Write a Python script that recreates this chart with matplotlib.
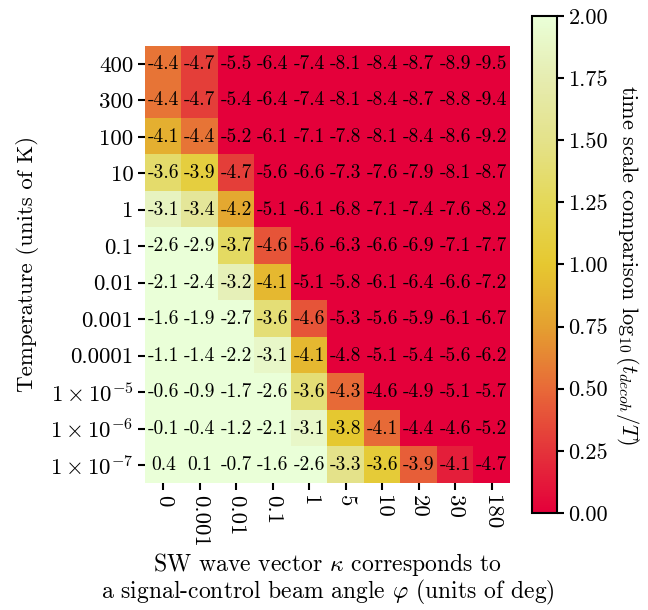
import numpy as np
import matplotlib
matplotlib.use("Agg")
import matplotlib.pyplot as plt
from matplotlib.colors import LinearSegmentedColormap

plt.rcParams['font.family'] = 'serif'
plt.rcParams['font.serif'] = ['cmr10']
plt.rcParams['mathtext.fontset'] = 'cm'
plt.rcParams['axes.unicode_minus'] = False
plt.rcParams['axes.formatter.use_mathtext'] = True

temps = ['400', '300', '100', '10', '1', '0.1', '0.01', '0.001', '0.0001',
         r'$1\times10^{-5}$', r'$1\times10^{-6}$', r'$1\times10^{-7}$']
angles = ['0', '0.001', '0.01', '0.1', '1', '5', '10', '20', '30', '180']

# annotated log10(t_decoh/T)
annot = np.array([
    [-4.4, -4.7, -5.5, -6.4, -7.4, -8.1, -8.4, -8.7, -8.9, -9.5],
    [-4.4, -4.7, -5.4, -6.4, -7.4, -8.1, -8.4, -8.7, -8.8, -9.4],
    [-4.1, -4.4, -5.2, -6.1, -7.1, -7.8, -8.1, -8.4, -8.6, -9.2],
    [-3.6, -3.9, -4.7, -5.6, -6.6, -7.3, -7.6, -7.9, -8.1, -8.7],
    [-3.1, -3.4, -4.2, -5.1, -6.1, -6.8, -7.1, -7.4, -7.6, -8.2],
    [-2.6, -2.9, -3.7, -4.6, -5.6, -6.3, -6.6, -6.9, -7.1, -7.7],
    [-2.1, -2.4, -3.2, -4.1, -5.1, -5.8, -6.1, -6.4, -6.6, -7.2],
    [-1.6, -1.9, -2.7, -3.6, -4.6, -5.3, -5.6, -5.9, -6.1, -6.7],
    [-1.1, -1.4, -2.2, -3.1, -4.1, -4.8, -5.1, -5.4, -5.6, -6.2],
    [-0.6, -0.9, -1.7, -2.6, -3.6, -4.3, -4.6, -4.9, -5.1, -5.7],
    [-0.1, -0.4, -1.2, -2.1, -3.1, -3.8, -4.1, -4.4, -4.6, -5.2],
    [0.4, 0.1, -0.7, -1.6, -2.6, -3.3, -3.6, -3.9, -4.1, -4.7],
])

# colour value of each cell (read from the shading)
shade = np.array([
    [0.55, 0.30, 0.0, 0.0, 0.0, 0.0, 0.0, 0.0, 0.0, 0.0],
    [0.55, 0.30, 0.0, 0.0, 0.0, 0.0, 0.0, 0.0, 0.0, 0.0],
    [0.85, 0.55, 0.0, 0.0, 0.0, 0.0, 0.0, 0.0, 0.0, 0.0],
    [1.35, 1.10, 0.30, 0.0, 0.0, 0.0, 0.0, 0.0, 0.0, 0.0],
    [1.85, 1.60, 0.80, 0.0, 0.0, 0.0, 0.0, 0.0, 0.0, 0.0],
    [2.0, 2.0, 1.30, 0.40, 0.0, 0.0, 0.0, 0.0, 0.0, 0.0],
    [2.0, 2.0, 1.80, 0.90, 0.0, 0.0, 0.0, 0.0, 0.0, 0.0],
    [2.0, 2.0, 2.0, 1.40, 0.40, 0.0, 0.0, 0.0, 0.0, 0.0],
    [2.0, 2.0, 2.0, 1.90, 0.90, 0.0, 0.0, 0.0, 0.0, 0.0],
    [2.0, 2.0, 2.0, 2.0, 1.40, 0.50, 0.0, 0.0, 0.0, 0.0],
    [2.0, 2.0, 2.0, 2.0, 1.90, 1.00, 0.50, 0.0, 0.0, 0.0],
    [2.0, 2.0, 2.0, 2.0, 2.0, 1.50, 1.05, 0.45, 0.15, 0.0],
])

cmap = LinearSegmentedColormap.from_list('decoh', [
    (0.0, '#e4003a'), (0.125, '#e4343a'), (0.25, '#e86a38'),
    (0.375, '#e4a030'), (0.5, '#e6c830'), (0.625, '#e4d858'),
    (0.75, '#e4e28a'), (0.875, '#e6ecb0'), (1.0, '#eaffd8')])

fig = plt.figure(figsize=(6.48, 6.10), dpi=100)
ax = fig.add_axes([0.224, 0.159, 0.563, 0.815])
cax = fig.add_axes([0.821, 0.159, 0.038, 0.815])

im = ax.imshow(shade, cmap=cmap, vmin=0, vmax=2, aspect='equal',
               interpolation='nearest')
for i in range(annot.shape[0]):
    for j in range(annot.shape[1]):
        ax.text(j, i, f'{annot[i, j]:.1f}', ha='center', va='center',
                fontsize=14)

ax.set_xticks(range(len(angles)))
ax.set_xticklabels(angles, rotation=270, fontsize=16.5)
ax.set_yticks(range(len(temps)))
ax.set_yticklabels(temps, fontsize=16.5)
ax.tick_params(length=5, width=1.5)
for s in ax.spines.values():
    s.set_visible(False)
ax.set_xlabel('SW wave vector $\\kappa$ corresponds to\n'
              'a signal-control beam angle $\\varphi$ (units of deg)',
              fontsize=17, linespacing=1.0, labelpad=3)
ax.set_ylabel('Temperature (units of K)', fontsize=16.5, labelpad=8)

cb = fig.colorbar(im, cax=cax, ticks=np.arange(0, 2.01, 0.25), format='%.2f')
cb.outline.set_linewidth(1.5)
cb.ax.tick_params(length=5, width=1.5, labelsize=16)
cb.set_label(r'time scale comparison $\log_{10}(t_{decoh}/T)$',
             rotation=270, labelpad=24, fontsize=16)

fig.savefig('out.png', dpi=100)
